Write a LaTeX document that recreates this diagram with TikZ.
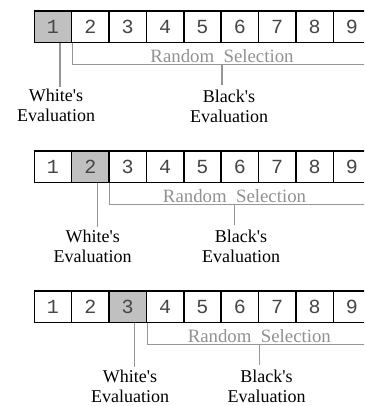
\documentclass[tikz,border=0pt]{standalone}
\usepackage{fontspec}
\setmainfont{Liberation Serif}
\newfontfamily\labelfont{Liberation Serif}
\newfontfamily\digitfont{Liberation Mono}
\definecolor{cellgray}{RGB}{192,192,192}
\definecolor{linegray}{RGB}{150,150,150}
\definecolor{textgray}{RGB}{145,145,145}
\definecolor{digitcol}{RGB}{70,70,70}
\tikzset{
  cell/.style={draw=black, line width=1.5pt, minimum width=37.375pt, minimum height=31.7pt,
    inner sep=0pt, fill=white, font=\digitfont\fontsize{20}{20}\selectfont, text=digitcol},
  selcell/.style={cell, fill=cellgray},
  gline/.style={draw=linegray, line width=1.3pt},
  label/.style={align=center, inner sep=0pt, anchor=base, font=\labelfont\fontsize{18}{20}\selectfont, text=black},
  randtext/.style={inner sep=0pt, anchor=base, font=\labelfont\fontsize{18.8}{20}\selectfont, text=textgray}
}
\begin{document}
\begin{tikzpicture}[x=1pt, y=-1pt]
\useasboundingbox (0,0) rectangle (364,406);
\clip (0,0) rectangle (364,406);
\foreach \r/\g/\wx/\bx/\wt/\bt in {1/1/60/222/56/229, 2/2/97.3/234.5/92.7/241, 3/3/134.3/259.3/130/266.5} {
  \begin{scope}[yshift={-(\r-1)*140pt}]
    \foreach \i in {1,...,9} {
      \ifnum\i=\g
        \node[selcell] (c\r-\i) at ({34.3+37.375*(\i-0.5)}, 26.85) {\i};
      \else
        \node[cell] (c\r-\i) at ({34.3+37.375*(\i-0.5)}, 26.85) {\i};
      \fi
    }
    \node[label] (white\r) at (\wt, 122) {White's\\Evaluation};
    \node[label] (black\r) at (\bt, 122.5) {Black's\\Evaluation};
    \node[randtext] (rand\r) at (\bx, 62.5) {Random\ \ Selection};
    \coordinate (wend\r) at (\wx, 87);
    \coordinate (corner\r) at (c\r-\g.south east |- 0,64.5);
    \coordinate (rend\r) at (380, 64.5);
    \coordinate (bstart\r) at (\bx, 64.5);
    \coordinate (bend\r) at (\bx, 85);
    \draw[gline] (wend\r |- c\r-\g.south) -- (wend\r);
    \draw[gline] (c\r-\g.south east) -- (corner\r) -- (rend\r);
    \draw[gline] (bstart\r) -- (bend\r);
  \end{scope}
}
\end{tikzpicture}
\end{document}
